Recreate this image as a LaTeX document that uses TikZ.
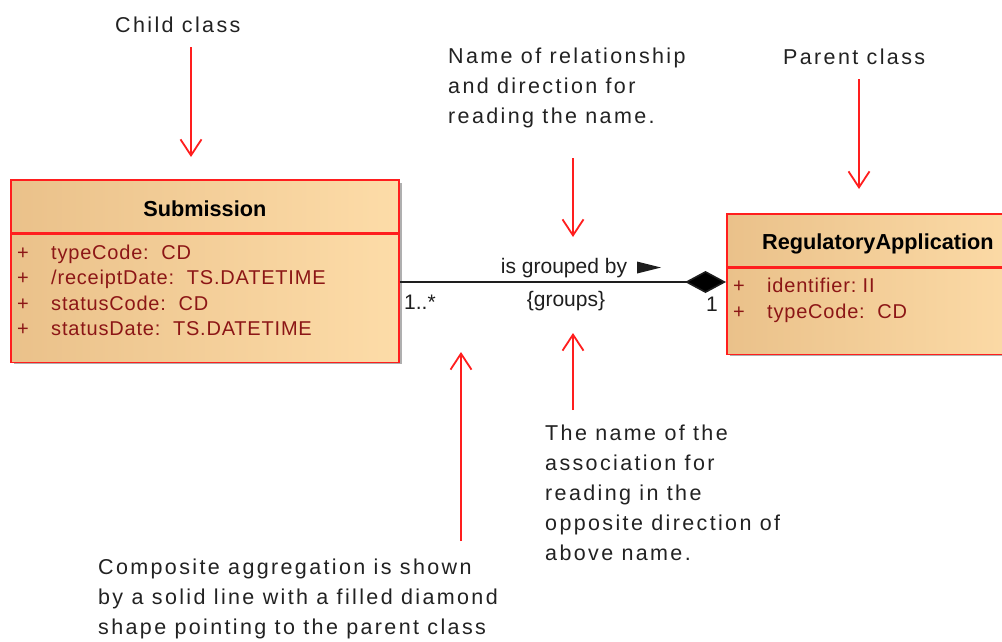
\documentclass[tikz,border=0pt]{standalone}
\usepackage{fontspec}
\setmainfont{Liberation Sans}
\usetikzlibrary{arrows.meta,calc}
\definecolor{clsL}{RGB}{234,193,138}
\definecolor{clsR}{RGB}{253,220,168}
\definecolor{clsRed}{RGB}{255,30,30}
\definecolor{attrRed}{RGB}{140,22,22}
\definecolor{annoTxt}{RGB}{34,34,34}
\definecolor{shadowC}{RGB}{175,175,175}
\definecolor{assocC}{RGB}{30,30,30}
\newfontfamily\annofont[LetterSpace=11]{Liberation Sans}
\newfontfamily\attrfont[LetterSpace=4]{Liberation Sans}
\tikzset{
  clspart/.style={draw=clsRed, line width=1.6pt, left color=clsL, right color=clsR, inner sep=0pt, anchor=north west},
  clsname/.style={font=\fontsize{21.7}{26}\selectfont\bfseries, text=black, inner sep=0pt},
  attrs/.style={font=\attrfont\fontsize{20}{25.5}\selectfont, text=attrRed, inner sep=0pt, anchor=north west},
  anno/.style={font=\annofont\fontsize{21.5}{30}\selectfont, text=annoTxt, inner sep=0pt, anchor=north west, align=left},
  asslbl/.style={font=\fontsize{21}{25}\selectfont, text=assocC, inner sep=0pt},
  redarrow/.style={draw=clsRed, line width=1.8pt, -{Straight Barb[length=16pt,width=21pt,line width=1.8pt]}},
  assoc/.style={draw=assocC, line width=1.6pt, -{Diamond[length=41pt,width=22pt,fill=black]}},
}
\begin{document}
\begin{tikzpicture}[x=1pt,y=-1pt]
\clip (0,0) rectangle (1002,641);
\fill[white] (0,0) rectangle (1002,641);

% ---- Submission class ----
\fill[shadowC] (14,183) rectangle (402,364);
\node[clspart, minimum width=388pt, minimum height=53pt] (subH) at (10,179) {};
\node[clspart, minimum width=388pt, minimum height=128pt] (subB) at (subH.south west) {};
\node[clsname] (subN) at ($(subH.center)+(0,2)$) {Submission};
\node[attrs] (subA) at (17,241.2) {%
  \begin{tabular}{@{}p{34pt}@{}l@{}}
  + & typeCode:\ \ CD\\
  + & /receiptDate:\ \ TS.DATETIME\\
  + & statusCode:\ \ CD\\
  + & statusDate:\ \ TS.DATETIME
  \end{tabular}};

% ---- RegulatoryApplication class ----
\fill[shadowC] (730,217) rectangle (1040,356);
\node[clspart, minimum width=306pt, minimum height=53pt] (regH) at (726,213) {};
\node[clspart, minimum width=306pt, minimum height=86pt] (regB) at (regH.south west) {};
\node[clsname, anchor=base west] (regN) at (762,249) {RegulatoryApplication};
\node[attrs] (regA) at (733,274.9) {%
  \begin{tabular}{@{}p{34pt}@{}l@{}}
  + & identifier:\ II\\
  + & typeCode:\ \ CD
  \end{tabular}};

% ---- association ----
\coordinate (assocY) at (0,282);
\draw[assoc] (subB.east |- assocY) -- (regB.west |- assocY);
\node[asslbl, anchor=base] (rname) at (564,273.5) {is grouped by};
\fill[assocC] (637,261.5) -- (661,267.5) -- (637,273.5) -- cycle;
\node[asslbl, anchor=base] (rrev) at (566,306) {\{groups\}};
\node[asslbl, anchor=base west] (m1) at (404,309) {1..*};
\node[asslbl, anchor=base west] (m2) at (706,311) {1};

% ---- annotations ----
\node[anno] (tChild) at (115,16.5) {Child class};
\node[anno] (tParent) at (783,48.5) {Parent class};
\node[anno] (tName) at (448,48) {Name of relationship\\and direction for\\reading the name.};
\node[anno] (tRev) at (545,425) {The name of the\\association for\\reading in the\\opposite direction of\\above name.};
\node[anno] (tComp) at (98,559) {Composite aggregation is shown\\by a solid line with a filled diamond\\shape pointing to the parent class};

\coordinate (aChildS) at (191,47);
\coordinate (aChildE) at (191,157);
\coordinate (aParS) at (859,79);
\coordinate (aParE) at (859,189);
\coordinate (aNameS) at (573,158);
\coordinate (aNameE) at (573,237);
\coordinate (aRevS) at (573,410);
\coordinate (aRevE) at (573,333);
\coordinate (aCompS) at (461,541);
\coordinate (aCompE) at (461,352);
\draw[redarrow] (aChildS) -- (aChildE);
\draw[redarrow] (aParS) -- (aParE);
\draw[redarrow] (aNameS) -- (aNameE);
\draw[redarrow] (aRevS) -- (aRevE);
\draw[redarrow] (aCompS) -- (aCompE);
\end{tikzpicture}
\end{document}
